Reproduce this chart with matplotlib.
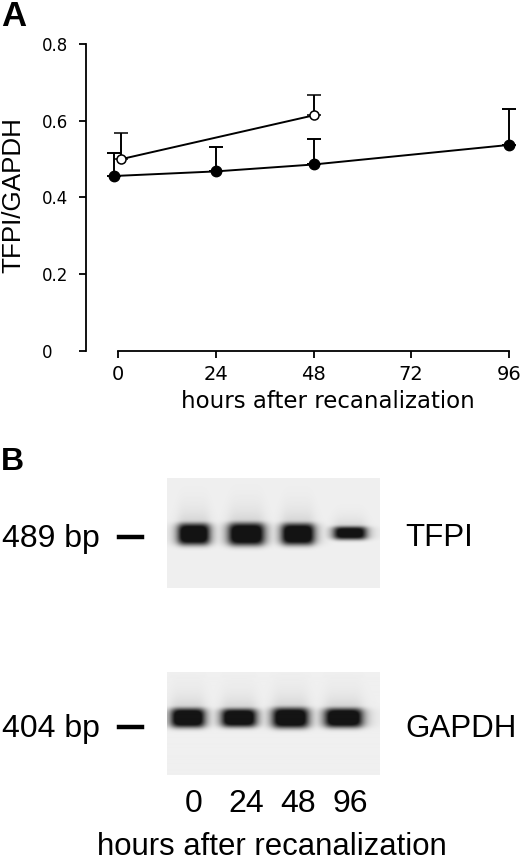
import numpy as np
import matplotlib
matplotlib.use('Agg')
import matplotlib.pyplot as plt

# panel A data
hours_filled = [0, 24, 48, 96]
ratio_filled = [0.456, 0.468, 0.486, 0.537]
err_filled = [0.061, 0.063, 0.067, 0.094]

hours_open = [0, 48]
ratio_open = [0.500, 0.614]
err_open = [0.067, 0.052]

xticks = [0, 24, 48, 72, 96]
yticks = [0, 0.2, 0.4, 0.6, 0.8]
ytick_labels = ['0', '0.2', '0.4', '0.6', '0.8']

# panel B gel bands: lane centre (lane units), half width (lanes),
# band centre (fraction from gel top), half thickness, strength
lane_labels = ['0', '24', '48', '96']
tfpi_pos = [0.50, 1.49, 2.46, 3.44]
tfpi_width = [0.31, 0.35, 0.32, 0.32]
tfpi_yc = [0.51, 0.51, 0.51, 0.50]
tfpi_thick = [0.100, 0.105, 0.100, 0.060]
tfpi_amp = [1.0, 1.0, 1.0, 0.95]

gapdh_pos = [0.39, 1.35, 2.32, 3.32]
gapdh_width = [0.33, 0.34, 0.35, 0.37]
gapdh_yc = [0.45, 0.45, 0.45, 0.45]
gapdh_thick = [0.095, 0.090, 0.100, 0.095]
gapdh_amp = [1.0, 1.0, 1.0, 1.0]

W, H = 520, 863


def fx(px):
    return px / W


def fy(py):
    return 1 - py / H


def blur(img, r):
    # small box blur, run twice, to soften band edges
    k = np.ones(2 * r + 1) / (2 * r + 1)
    for _ in range(2):
        img = np.apply_along_axis(lambda v: np.convolve(np.pad(v, r, mode='edge'), k, 'valid'), 0, img)
        img = np.apply_along_axis(lambda v: np.convolve(np.pad(v, r, mode='edge'), k, 'valid'), 1, img)
    return img


def gel_image(pos, width, yc, thick, amp, nx=426, ny=220):
    x = np.linspace(0, 4, nx)
    y = np.linspace(0, 1, ny)
    X, Y = np.meshgrid(x, y)
    dark = np.zeros_like(X)
    for p, w, c, t, a in zip(pos, width, yc, thick, amp):
        px = 1 / (1 + ((X - p) / (0.95 * w)) ** 6)
        core = np.exp(-((Y - c) / t) ** 4)
        # faint smear just above the band
        dy = np.clip(c - Y, 0, None)
        smear = 0.30 * np.exp(-dy / (1.1 * t)) * (Y < c)
        dark = np.maximum(dark, a * px * np.maximum(core, smear))
    dark = np.clip(1.25 * blur(dark, 2), 0, 1)
    bg = 0.94
    return bg - dark * (bg - 0.08)


fig = plt.figure(figsize=(W / 100, H / 100), dpi=100)

# ---- panel A ----
px_per_h = 391 / 96
x_left = (86 - 118) / px_per_h
x_right = (517 - 118) / px_per_h
px_per_unit = 307 / 0.8
y_top = 0.82
top_px = 351 - y_top * px_per_unit
ax = fig.add_axes([fx(86), fy(351), fx(517) - fx(86), fy(top_px) - fy(351)])
ax.set_xlim(x_left, x_right)
ax.set_ylim(0, y_top)
for s in ['top', 'right']:
    ax.spines[s].set_visible(False)
ax.spines['left'].set_bounds(0, 0.8)
ax.spines['bottom'].set_bounds(0, 96)
ax.spines['left'].set_linewidth(1.3)
ax.spines['bottom'].set_linewidth(1.3)

xf = np.array(hours_filled, float)
xf[0] -= 1
xo = np.array(hours_open, float)
xo[0] += 0.8

ax.errorbar(xf, ratio_filled, yerr=[np.zeros(len(err_filled)), err_filled],
            fmt='-o', color='black', ms=7.5, mfc='black', mec='black',
            lw=1.4, elinewidth=1.4, capsize=5, capthick=1.4, zorder=3)
ax.errorbar(xo, ratio_open, yerr=[np.zeros(len(err_open)), err_open],
            fmt='-o', color='black', ms=6.5, mfc='white', mec='black', mew=1.1,
            lw=1.4, elinewidth=1.4, capsize=5, capthick=1.4, zorder=4)

ax.set_xticks(xticks)
ax.set_xticklabels([str(v) for v in xticks], fontsize=14, family='DejaVu Sans')
ax.set_yticks(yticks)
ax.set_yticklabels(ytick_labels, fontsize=12, family='DejaVu Sans')
ax.tick_params(axis='x', length=5, width=1.3, pad=5)
ax.tick_params(axis='y', length=5, width=1.3, pad=26.5)
for lab in ax.get_yticklabels():
    lab.set_horizontalalignment('left')

fig.text(fx(328), fy(408), 'hours after recanalization', ha='center',
         va='baseline', fontsize=16.5, family='DejaVu Sans')
fig.text(fx(13), fy(195), 'TFPI/GAPDH', rotation=90, ha='center', va='center',
         fontsize=18.7, family='Liberation Sans')
fig.text(fx(1), fy(26), 'A', fontsize=25, fontweight='bold',
         family='Liberation Sans', va='baseline', ha='left')

# ---- panel B ----
fig.text(fx(1), fy(470), 'B', fontsize=23, fontweight='bold',
         family='Liberation Sans', va='baseline', ha='left')

gels = [
    ('TFPI', '489 bp', 478, 588, 546.5, 537,
     tfpi_pos, tfpi_width, tfpi_yc, tfpi_thick, tfpi_amp),
    ('GAPDH', '404 bp', 672, 775, 737, 727,
     gapdh_pos, gapdh_width, gapdh_yc, gapdh_thick, gapdh_amp),
]
gel_axes = []
for name, size, top, bot, base, dash_y, pos, wid, yc, th, amp in gels:
    gax = fig.add_axes([fx(167), fy(bot), fx(380) - fx(167), fy(top) - fy(bot)])
    img = gel_image(pos, wid, yc, th, amp)
    gax.imshow(img, cmap='gray', vmin=0, vmax=1, aspect='auto',
               extent=(0, 4, 1, 0), interpolation='bilinear')
    gax.set_xlim(0, 4)
    gax.set_ylim(1, 0)
    gax.axis('off')
    gel_axes.append(gax)
    fig.text(fx(2), fy(base), size, fontsize=23, family='Liberation Sans',
             ha='left', va='baseline')
    fig.text(fx(405), fy(base), name, fontsize=22.5, family='Liberation Sans',
             ha='left', va='baseline')
    fig.add_artist(plt.Line2D([fx(119), fx(142)], [fy(dash_y), fy(dash_y)],
                              color='black', lw=3.2))

# lane labels under the GAPDH gel, aligned with the TFPI lanes
for p, lab in zip(tfpi_pos, lane_labels):
    gel_axes[1].text(p, 1 + 37 / 103, lab, fontsize=23, family='Liberation Sans',
                     ha='center', va='baseline', clip_on=False)

fig.text(fx(272), fy(855), 'hours after recanalization', ha='center',
         va='baseline', fontsize=22.4, family='Liberation Sans')

fig.savefig('out.png', dpi=100)
